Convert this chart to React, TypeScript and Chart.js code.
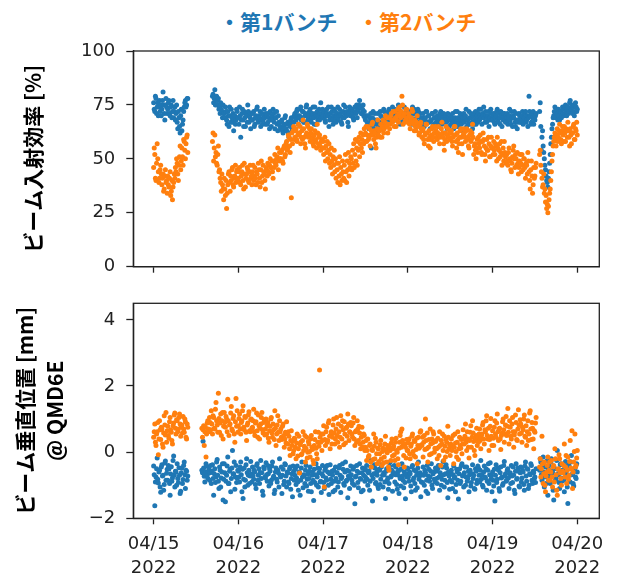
import React, { useEffect, useRef } from 'react';
import { Chart, registerables } from 'chart.js';

Chart.register(...registerables);

const _ = null;

// sampling interval of the logged data (minutes), starting 2022-04-15 00:00
const SAMPLE_MINUTES = 10;

const X_TICK_DAYS = [0, 1, 2, 3, 4, 5];
const X_TICK_DATES = ['04/15', '04/16', '04/17', '04/18', '04/19', '04/20'];
const X_TICK_YEAR = '2022';
const EFF_TICKS = [0, 25, 50, 75, 100];
const POS_TICKS = [-2, 0, 2, 4];
const SERIES_LABELS = ['第1バンチ', '第2バンチ'];
const EFF_TITLE = 'ビーム入射効率 [%]';
const POS_TITLE = ['ビーム垂直位置 [mm]', '@ QMD6E'];
const COLORS = ['#1f77b4', '#ff7f0e'];

// ビーム入射効率 [%] — 第1バンチ (one row = 2 hours)
const EFF_B1 = [
  76, 73, 72, 79, 78, 71, 74, 76, 70, 74, 77, 72,
  75, 70, 73, 77, 81, 75, 71, 68, 75, 78, 74, 71,
  73, 76, 77, 71, 70, 74, 75, 69, 72, 77, 69, 72,
  74, 68, 71, 75, 67, 64, 72, 69, 65, 62, 70, 73,
  63, 66, 68, 72, 74, 76, 77, 74, 75, 78, 78, _,
  _, _, _, _, _, _, _, _, _, _, _, _,
  _, _, _, _, _, _, _, _, _, _, _, _,
  _, _, _, _, _, _, _, _, _, _, _, _,
  _, _, _, _, 79, 80, 76, 78, 82, 75, 77, 79,
  75, 77, 78, 73, 74, 71, 76, 73, 72, 69, 75, 71,
  71, 69, 74, 72, 68, 66, 72, 70, 65, 74, 70, 67,
  73, 69, 67, 71, 63, 68, 70, 66, 68, 73, 72, 69,
  69, 66, 74, 70, 60, 68, 71, 73, 68, 65, 72, 69,
  65, 71, 70, 67, 75, 72, 67, 70, 69, 64, 71, 68,
  68, 71, 72, 65, 66, 69, 70, 73, 74, 68, 67, 70,
  69, 72, 65, 68, 71, 66, 68, 70, 73, 69, 66, 71,
  70, 66, 67, 71, 69, 64, 72, 68, 65, 70, 68, 73,
  71, 67, 64, 69, 69, 72, 66, 63, 70, 67, 67, 65,
  64, 67, 68, 63, 62, 65, 66, 69, 70, 64, 63, 66,
  67, 62, 60, 66, 65, 68, 69, 63, 64, 67, 67, 70,
  71, 69, 68, 72, 73, 70, 66, 69, 70, 73, 74, 68,
  69, 72, 72, 67, 67, 70, 71, 74, 75, 70, 68, 71,
  70, 72, 73, 68, 67, 70, 71, 74, 69, 66, 74, 71,
  66, 70, 72, 68, 70, 73, 68, 71, 76, 69, 71, 73,
  69, 71, 72, 68, 67, 70, 73, 71, 70, 74, 65, 68,
  71, 69, 74, 72, 68, 66, 70, 73, 72, 69, 67, 70,
  71, 74, 68, 70, 73, 71, 70, 67, 66, 69, 72, 75,
  69, 71, 74, 70, 70, 72, 67, 65, 71, 74, 73, 70,
  70, 73, 72, 69, 68, 71, 74, 72, 71, 75, 69, 72,
  73, 75, 77, 74, 74, 71, 71, 73, 75, 70, 72, 69,
  68, 70, 65, 67, 70, 66, 64, 69, 67, 71, 55, 65,
  69, 72, 66, 64, 71, 68, 63, 66, 68, 71, 65, 67,
  67, 72, 70, 66, 64, 69, 69, 73, 72, 67, 68, 71,
  71, 69, 66, 72, 73, 68, 70, 67, 68, 71, 74, 70,
  70, 68, 73, 71, 68, 72, 71, 69, 75, 72, 69, 66,
  72, 70, 67, 71, 70, 68, 74, 71, 69, 73, 71, 68,
  70, 72, 67, 69, 72, 70, 69, 66, 74, 71, 68, 73,
  71, 68, 65, 69, 70, 73, 72, 67, 67, 71, 69, 66,
  68, 66, 71, 69, 65, 68, 69, 72, 72, 67, 67, 70,
  70, 67, 64, 68, 68, 71, 71, 65, 66, 69, 69, 72,
  67, 69, 70, 66, 65, 68, 69, 71, 72, 67, 66, 70,
  68, 71, 62, 67, 70, 68, 67, 64, 71, 69, 65, 68,
  68, 70, 66, 69, 71, 67, 64, 68, 69, 72, 67, 65,
  72, 69, 65, 67, 68, 71, 70, 66, 63, 68, 69, 71,
  67, 69, 70, 73, 65, 68, 68, 66, 72, 69, 66, 71,
  69, 67, 64, 70, 71, 66, 68, 72, 66, 69, 70, 67,
  71, 73, 68, 70, 73, 69, 66, 71, 70, 74, 69, 67,
  72, 70, 67, 69, 70, 72, 65, 68, 69, 73, 71, 68,
  68, 70, 71, 67, 66, 69, 70, 72, 73, 68, 67, 71,
  69, 66, 72, 70, 65, 69, 68, 71, 71, 68, 67, 70,
  69, 71, 66, 68, 70, 73, 68, 66, 72, 69, 65, 70,
  69, 72, 67, 65, 71, 68, 64, 67, 68, 71, 70, 67,
  67, 69, 70, 72, 66, 68, 69, 71, 72, 67, 68, 70,
  65, 69, 79, 72, 70, 66, 67, 71, 69, 72, 66, 69,
  68, 70, 71, _, _, _, _, _, 72, 76, 65, 54,
  60, 63, 56, 53, 50, 47, 45, 42, 40, 39, 37, 41,
  44, 48, 52, 57, 60, 64, 66, 69, 70, 72, 74, 71,
  69, 73, 71, 68, 73, 70, 68, 72, 72, 69, 70, 74,
  73, 70, 71, 74, 75, 72, 70, 73, 74, 71, 72, 76,
  77, 72, 73, 75, 71, 74, 75, 70, 72, 76, 74, 72,
  73,
];

// ビーム入射効率 [%] — 第2バンチ
const EFF_B2 = [
  46, 55, 52, 41, 40, 48, 57, 50, 44, 39, 41, 45,
  47, 43, 38, 41, 43, 35, 36, 42, 45, 39, 40, 34,
  42, 38, 37, 41, 44, 33, 35, 40, 31, 37, 39, 43,
  41, 46, 44, 50, 48, 43, 40, 47, 51, 56, 45, 49,
  55, 51, 47, 59, 58, 54, 50, 57, 60, 61, 53, _,
  _, _, _, _, _, _, _, _, _, _, _, _,
  _, _, _, _, _, _, _, _, _, _, _, _,
  _, _, _, _, _, _, _, _, _, _, _, _,
  _, _, _, _, 58, 62, 49, 55, 61, 51, 53, 48,
  47, 52, 56, 44, 45, 41, 39, 35, 43, 38, 36, 31,
  41, 36, 33, 40, 27, 34, 38, 43, 44, 39, 35, 42,
  40, 45, 46, 38, 37, 41, 42, 47, 39, 44, 45, 40,
  41, 44, 46, 39, 38, 42, 44, 47, 40, 36, 48, 43,
  37, 41, 43, 46, 45, 40, 39, 44, 47, 41, 42, 38,
  44, 47, 40, 42, 46, 41, 38, 44, 43, 39, 48, 45,
  41, 37, 45, 49, 39, 42, 47, 44, 43, 40, 36, 46,
  45, 42, 48, 44, 43, 47, 50, 46, 46, 49, 44, 41,
  49, 46, 52, 48, 47, 50, 51, 55, 45, 49, 53, 50,
  50, 53, 54, 49, 48, 55, 56, 51, 52, 57, 58, 54,
  55, 61, 60, 56, 53, 59, 32, 62, 57, 63, 65, 59,
  60, 63, 64, 59, 58, 61, 66, 62, 62, 65, 57, 60,
  63, 59, 68, 64, 60, 57, 55, 61, 62, 66, 65, 60,
  61, 64, 58, 62, 64, 59, 60, 57, 56, 61, 63, 58,
  59, 55, 66, 62, 57, 60, 61, 56, 54, 58, 59, 55,
  58, 52, 55, 60, 49, 56, 53, 58, 50, 54, 57, 48,
  52, 46, 55, 49, 43, 51, 47, 54, 44, 50, 41, 48,
  45, 39, 48, 42, 51, 38, 46, 43, 40, 49, 44, 41,
  47, 40, 52, 44, 39, 49, 45, 53, 42, 48, 46, 51,
  50, 45, 54, 48, 57, 46, 52, 59, 49, 55, 47, 58,
  54, 60, 51, 57, 62, 55, 59, 53, 61, 57, 64, 58,
  62, 65, 58, 61, 65, 59, 60, 64, 56, 61, 63, 66,
  67, 61, 59, 63, 62, 57, 55, 60, 64, 68, 61, 63,
  63, 60, 66, 64, 60, 65, 68, 62, 64, 67, 70, 66,
  65, 69, 62, 66, 69, 64, 66, 70, 71, 68, 67, 72,
  68, 65, 72, 69, 65, 68, 70, 73, 67, 71, 74, 70,
  69, 72, 79, 75, 66, 70, 71, 67, 68, 73, 73, 69,
  67, 71, 70, 66, 64, 68, 69, 73, 72, 67, 66, 63,
  68, 65, 63, 67, 70, 66, 65, 61, 62, 66, 67, 64,
  60, 63, 64, 59, 57, 61, 62, 66, 66, 62, 59, 56,
  63, 60, 55, 59, 61, 64, 65, 60, 58, 62, 62, 65,
  63, 60, 59, 62, 65, 61, 57, 60, 61, 64, 67, 62,
  60, 57, 54, 59, 62, 65, 58, 61, 64, 60, 60, 63,
  59, 62, 63, 58, 56, 60, 61, 65, 65, 61, 58, 55,
  62, 59, 53, 57, 60, 63, 64, 60, 57, 52, 61, 64,
  62, 60, 58, 63, 64, 59, 60, 56, 55, 61, 63, 58,
  59, 62, 66, 60, 52, 56, 57, 54, 50, 55, 59, 53,
  60, 57, 55, 61, 58, 53, 52, 58, 62, 59, 56, 52,
  49, 55, 59, 54, 54, 60, 57, 51, 51, 56, 60, 55,
  55, 52, 58, 54, 52, 57, 56, 49, 60, 55, 50, 54,
  57, 51, 53, 58, 47, 52, 55, 49, 58, 53, 51, 48,
  52, 49, 47, 53, 55, 50, 49, 45, 44, 48, 51, 54,
  56, 50, 46, 52, 50, 47, 53, 48, 43, 46, 49, 52,
  48, 44, 52, 47, 45, 50, 50, 46, 41, 48, 47, 43,
  53, 49, 44, 40, 36, 45, 49, 42, 34, 38, 46, 41,
  42, 46, 48, _, _, _, _, _, 52, 54, 47, 44,
  41, 37, 38, 43, 34, 36, 30, 33, 27, 29, 25, 28,
  31, 34, 36, 40, 44, 49, 52, 56, 58, 60, 62, 59,
  56, 61, 64, 58, 60, 63, 66, 62, 59, 57, 63, 65,
  61, 58, 65, 62, 58, 64, 63, 60, 67, 63, 60, 56,
  64, 61, 57, 62, 62, 65, 66, 59, 59, 64, 63, 67,
  61,
];

// ビーム垂直位置 [mm] @ QMD6E — 第1バンチ
const POS_B1 = [
  -0.42, -0.68, -1.62, -0.90, -0.75, -0.50, -0.18, -0.82, -0.93, -0.60, -0.55, -1.05,
  -1.21, -0.45, -0.38, -0.72, -0.70, -1.15, -0.98, -0.33, -0.27, -0.85, -0.64, -0.52,
  -0.85, -0.40, -0.51, -0.95, -1.30, -0.66, -0.44, -0.88, -0.78, -0.25, -0.12, -0.70,
  -1.05, -0.58, -0.60, -1.00, -0.35, -0.80, -0.92, -0.47, -0.70, -1.25, -1.18, -0.62,
  -0.48, -0.95, -0.83, -0.40, -0.30, -0.68, -1.10, -0.55, -0.58, -0.85, -0.72, _,
  _, _, _, _, _, _, _, _, _, _, _, _,
  _, _, _, _, _, _, _, _, _, _, -0.55, -0.62,
  0.33, -0.48, -0.73, -0.90, -0.60, -0.35, -0.42, -0.70, -0.80, -0.58, -0.50, -0.85,
  -0.62, -0.40, -0.95, -0.58, -0.38, -0.80, -1.30, -0.65, -0.50, -0.92, -0.75, -0.30,
  -0.22, -0.70, -0.88, -1.10, -0.45, -0.55, -1.05, -0.78, -0.60, -0.35, -1.45, -0.82,
  -0.35, -0.62, -1.50, -0.88, -0.70, -0.42, -0.15, -0.95, -0.95, -0.58, -0.52, -1.20,
  -0.80, -0.48, 0.05, -0.66, -0.65, -0.30, -1.12, -0.75, -0.40, -0.92, -0.78, -0.55,
  -0.58, -0.75, -0.90, -0.45, -0.30, -0.68, -1.20, -0.52, -1.40, -0.82, -0.48, -1.05,
  -0.85, -0.38, -0.20, -0.62, -1.00, -0.70, -0.55, -0.95, -0.72, -0.28, -0.66, -0.90,
  -0.45, -0.72, -0.82, -0.55, -0.60, -0.98, -1.10, -0.40, -0.35, -0.85, -0.70, -0.50,
  -0.95, -0.62, -0.25, -0.80, -0.62, -1.18, -1.30, -0.45, -0.50, -0.75, -0.78, -0.32,
  -0.68, -0.88, -0.40, -0.65, -1.02, -0.50, -0.57, -0.95, -0.85, -0.42, -0.30, -0.78,
  -0.73, -1.25, -1.15, -0.60, -0.48, -0.82, -0.90, -0.55, -0.62, -1.05, -0.20, -0.70,
  -0.75, -0.45, -1.25, -0.70, -0.52, -0.98, -0.88, -0.35, -0.38, -0.72, -1.05, -0.60,
  -0.63, -0.90, -0.95, -0.50, -0.45, -1.12, -0.80, -0.65, -1.35, -0.42, -0.58, -0.85,
  -0.70, -0.50, -0.98, -0.78, -0.42, -0.90, -1.15, -0.60, -0.62, -1.30, -0.85, -0.48,
  -0.30, -0.75, -1.08, -0.68, -0.72, -0.95, -0.55, -0.40, -1.02, -0.82, -0.66, -1.18,
  -0.80, -0.58, -0.45, -0.95, -1.20, -0.70, -0.60, -0.85, -1.46, -0.52, -0.92, -0.68,
  -0.35, -1.00, -0.75, -0.48, -1.05, -0.62, -0.50, -0.90, -0.88, -1.22, -0.65, -0.40,
  -0.72, -0.92, -1.10, -0.55, -0.48, -0.78, -0.85, -0.40, -0.60, -1.00, -1.28, -0.65,
  -0.38, -0.82, -0.95, -0.58, -0.70, -1.20, -0.55, -0.88, -1.15, -0.45, -0.80, -0.62,
  -0.62, -1.05, -0.90, -0.48, -0.40, -0.70, -1.22, -0.80, -0.75, -0.35, -0.52, -0.95,
  -1.00, -0.60, -0.30, -0.88, -0.85, -0.55, -1.38, -0.72, -0.58, -1.10, -0.78, -0.42,
  -0.68, -0.85, -0.95, -0.52, -0.45, -1.00, -1.56, -0.75, -0.72, -0.40, -0.58, -0.92,
  -1.08, -0.62, -0.35, -0.80, -0.82, -1.20, -0.62, -0.48, -1.15, -0.70, -0.50, -0.88,
  -0.75, -0.55, -0.40, -0.82, -1.00, -0.62, -0.58, -1.15, -0.88, -0.45, -0.25, -0.70,
  -1.48, -0.80, -0.65, -0.38, -0.48, -0.95, -0.92, -0.60, -0.70, -1.02, -1.10, -0.52,
  -0.55, -0.98, -0.82, -0.45, -0.38, -0.70, -1.05, -0.62, -0.68, -0.90, -1.40, -0.58,
  -0.50, -0.85, -0.78, -1.12, -0.95, -0.42, -0.30, -0.75, -0.72, -0.55, -1.18, -0.65,
  -0.62, -0.40, -0.90, -0.68, -0.45, -0.98, -1.12, -0.58, -0.70, -1.25, -0.55, -0.80,
  -1.02, -0.50, -0.35, -0.72, -0.85, -1.08, -0.60, -0.92, -1.41, -0.65, -0.75, -0.48,
  -0.50, -0.75, -0.88, -0.60, -0.65, -1.02, -1.20, -0.45, -0.40, -0.85, -0.78, -0.55,
  -0.95, -1.15, -0.58, -0.70, -1.08, -0.48, -0.30, -0.82, -0.72, -0.62, -1.35, -0.90,
  -0.68, -0.92, -0.45, -0.70, -1.00, -0.55, -0.62, -1.18, -0.85, -0.40, -1.25, -0.72,
  -0.52, -0.88, -0.75, -0.58, -0.35, -1.00, -1.10, -0.65, -0.60, -0.82, -0.90, -0.48,
  -0.58, -0.80, -0.95, -0.50, -0.40, -0.75, -1.15, -0.62, -0.70, -1.00, -0.82, -0.45,
  -0.28, -0.68, -1.05, -0.85, -0.65, -0.38, -0.48, -0.92, -1.38, -0.60, -0.72, -1.12,
  -0.85, -0.62, -0.55, -0.90, -1.10, -0.68, -0.42, -0.78, -0.75, -1.20, -0.98, -0.52,
  -0.60, -0.85, -1.42, -0.65, -0.50, -0.95, -0.88, -0.40, -0.35, -0.72, -0.70, -1.05,
  -0.62, -0.45, -1.00, -0.75, -0.45, -0.88, -0.80, -0.58, -1.20, -0.68, -0.55, -1.02,
  -0.92, -0.65, -0.38, -0.80, -0.70, -1.10, -1.12, -0.50, -0.58, -0.95, -0.85, -0.42,
  -0.48, -0.70, -0.90, -0.55, -0.25, -0.82, -0.68, -1.00, -1.05, -0.60, -0.42, -0.75,
  -0.78, -0.50, -1.15, -0.88, -0.55, -0.35, -0.95, -0.68, -0.32, -0.82, -0.72, -1.20,
  -0.60, -0.85, -1.02, -0.52, -1.48, -0.70, -0.38, -0.92, -0.82, -0.48, -0.55, -1.10,
  -1.18, -0.62, -0.45, -0.78, -0.75, -1.00, -0.95, -0.40, -0.28, -0.72, -0.65, -0.88,
  -0.85, -0.55, -0.50, -0.78, -1.10, -0.65, -0.62, -0.95, -0.40, -0.72, -0.92, -0.45,
  -0.70, -1.15, -1.25, -0.58, -0.35, -0.82, -0.80, -0.48, -0.58, -1.02, -1.05, -0.62,
  -0.45, -0.90, -0.78, -0.55, -0.60, -0.98, -1.15, -0.42, -0.30, -0.72, -0.88, -0.50,
  -0.52, -1.10, -1.00, -0.65, -0.68, -0.35, -0.40, -0.85, -0.95, -0.58, -0.62, -0.80,
  -0.75, -0.92, -0.50, _, _, _, _, _, -0.55, -0.20, -0.30, -0.68,
  -0.85, -0.40, -0.15, -0.60, -1.05, -0.75, -0.45, -0.95, -0.70, -0.25, -1.30, -0.52,
  -0.40, -0.72, -0.95, -0.30, -0.20, -0.58, -0.62, -1.15, -1.45, -0.48, -0.50, -0.85,
  -0.80, -0.25, 0.05, -0.65, -0.68, -0.92, -1.10, -0.38, -0.35, -0.78, -0.88, -0.55,
  -0.55, -0.85, -1.20, -0.45, -0.28, -0.62, -0.75, -1.05, -1.55, -0.38, -0.42, -0.70,
  -0.90, -0.30, -0.10, -0.68, -0.65, -0.95, -1.02, -0.52, -0.48, -0.75, -0.80, -0.35,
  -0.60,
];

// ビーム垂直位置 [mm] @ QMD6E — 第2バンチ
const POS_B2 = [
  0.45, 0.62, 0.85, 0.30, 0.20, 0.55, 0.62, 0.90, -0.08, 0.40, 0.95, 0.68,
  0.38, 0.75, 0.70, 0.25, 0.15, 0.58, 1.10, 0.82, 0.52, 1.20, 0.30, 0.65,
  0.78, 0.50, 0.42, 0.92, 1.05, 0.68, 0.60, 0.35, 0.25, 0.80, 0.88, 1.12,
  1.18, 0.72, 0.55, 0.98, 0.95, 0.62, 0.70, 1.05, 1.15, 0.85, 0.48, 0.75,
  0.82, 0.58, 1.08, 0.70, 0.60, 1.00, 0.92, 0.45, 0.40, 0.85, 0.75, _,
  _, _, _, _, _, _, _, _, _, _, _, _,
  _, _, _, _, _, _, _, _, _, _, 0.72, 0.45,
  0.68, 0.80, 0.20, 0.62, 0.75, -0.15, 0.55, 0.88, 0.95, 0.70, 0.62, 1.05,
  0.90, 0.68, 1.25, 0.85, 0.55, 1.10, 1.05, 0.72, 0.70, 1.30, 1.50, 0.95,
  0.82, 0.60, 1.78, 1.02, 0.60, 0.88, 1.15, 0.50, 0.95, 1.20, 0.40, 0.78,
  1.20, 0.90, 0.75, 1.08, 1.00, 0.62, 1.60, 0.95, 0.50, 0.82, 0.85, 1.18,
  1.38, 0.70, 0.65, 1.02, 1.10, 0.55, 0.30, 0.92, 1.62, 0.78, 1.25, 0.60,
  0.80, 1.02, 1.15, 0.70, 0.55, 0.90, 0.95, 1.25, 1.40, 0.75, 0.68, 1.08,
  1.05, 0.60, 0.35, 0.82, 0.88, 1.12, 1.22, 0.65, 0.62, 0.98, 1.00, 0.72,
  0.75, 0.95, 1.30, 0.62, 0.50, 0.88, 0.92, 1.18, 0.65, 0.45, 1.12, 0.80,
  0.40, 0.72, 0.85, 1.05, 1.20, 0.68, 0.58, 0.90, 0.98, 0.52, 0.70, 1.00,
  0.55, 0.80, 0.90, 0.42, 0.30, 0.65, 0.78, 1.00, 1.05, 0.58, 0.45, 0.85,
  0.68, 0.38, 1.25, 0.72, 0.20, 0.55, 0.82, 1.10, 0.60, 0.35, 0.95, 0.62,
  0.70, 0.45, 0.38, 0.78, 0.85, 0.50, 0.15, 0.40, 0.60, 0.28, 0.92, 0.55,
  0.25, 0.62, 0.48, 0.10, -0.10, 0.35, 0.65, 0.20, 0.32, -0.05, 0.05, 0.42,
  0.40, 0.15, -0.20, 0.28, 0.55, -0.12, 0.10, 0.48, -0.63, 0.22, 0.30, -0.08,
  -0.05, 0.35, 0.62, 0.05, 0.18, 0.50, -0.30, 0.12, 0.45, -0.18, 0.00, 0.32,
  0.25, 0.02, -0.15, 0.40, 0.50, 0.15, 0.08, -0.25, -0.35, 0.20, 0.38, 0.62,
  0.12, -0.05, -0.20, 0.30, 0.60, 0.18, 2.48, 0.45, 0.30, 0.55, 0.05, 0.35,
  0.55, 0.80, -1.05, 0.38, 0.20, 0.62, 0.75, 0.30, 0.35, 0.88, 0.95, 0.48,
  0.10, 0.52, 0.62, 0.25, 0.45, 0.82, 1.00, 0.58, 0.25, 0.40, 0.70, 1.05,
  0.50, 0.30, 0.85, 0.62, 0.15, 0.45, 1.10, 0.78, 0.40, 0.95, 0.68, 0.22,
  0.92, 0.55, 0.28, 0.72, 0.75, 0.48, 1.15, 0.85, 0.35, 0.62, 0.60, 0.90,
  0.80, 0.55, 0.45, 0.88, 1.05, 0.40, 0.20, 0.62, 0.65, 0.30, 0.95, 0.70,
  0.35, 0.78, 0.58, 0.25, 0.10, 0.45, 0.75, 0.15, 0.30, 0.55, 0.50, 0.05,
  0.15, 0.35, -0.25, 0.05, 0.40, -0.15, -0.10, 0.20, 0.25, -0.30, -0.45, 0.08,
  0.05, -0.22, 0.55, 0.18, -0.20, 0.42, 0.30, -0.05, -0.35, 0.12, 0.10, -0.28,
  -0.05, 0.22, 0.35, -0.20, -0.40, 0.02, 0.12, -0.32, -0.15, 0.25, 0.48, 0.08,
  -0.30, -0.02, 0.20, -0.45, -0.55, 0.15, 0.05, -0.25, 0.28, 0.40, -0.12, 0.10,
  0.18, -0.08, -0.25, 0.30, 0.42, 0.05, 0.00, -0.20, -0.38, 0.12, 0.30, 0.50,
  0.62, 0.15, 0.70, 0.35, 0.22, -0.10, -0.45, 0.25, 0.15, -0.18, 0.38, 0.05,
  0.05, 0.28, 0.40, -0.05, -0.20, 0.18, 0.25, 0.48, 0.55, 0.02, -0.10, 0.35,
  0.32, -0.15, 0.08, 0.42, -0.35, 0.20, 0.45, 0.12, 0.15, 0.60, 0.65, 0.22,
  0.20, 0.45, -0.15, 0.30, 0.50, 0.08, 1.00, 0.35, 0.10, 0.58, -0.30, 0.15,
  0.38, -0.08, 0.70, 0.25, -0.05, 0.40, 0.28, 0.62, 0.55, 0.00, 0.12, 0.32,
  0.35, 0.10, -0.20, 0.42, 0.15, -0.10, 0.62, 0.20, -0.40, 0.35, 0.25, 0.55,
  0.05, -0.25, 0.48, 0.18, -0.15, 0.38, 0.30, 0.02, 0.78, 0.45, 0.10, 0.22,
  -0.10, 0.25, 0.40, 0.05, 0.18, 0.50, -0.35, 0.15, 0.55, 0.28, 0.02, -0.15,
  0.30, 0.62, -0.22, 0.10, 0.45, 0.20, 0.12, 0.38, -0.05, 0.25, 0.68, 0.40,
  0.25, 0.48, 0.85, 0.30, 0.05, 0.62, 0.40, 0.15, -0.18, 0.35, 0.60, 0.80,
  0.15, 0.45, 0.95, 0.58, 0.32, 0.05, -0.10, 0.40, 0.50, 0.72, 0.20, 0.42,
  0.30, 0.55, 0.70, 0.35, 0.10, 0.45, 0.55, 0.82, 0.90, 0.40, 0.25, 0.68,
  0.62, 0.95, 1.10, 0.50, 0.40, 0.72, 0.05, 0.38, 0.78, 1.02, 0.48, 0.20,
  0.65, 0.42, 0.20, 0.75, 0.95, 0.55, 0.45, 0.88, 1.15, 0.62, 0.35, 0.70,
  0.72, 0.40, 0.08, 0.50, 0.58, 0.92, 1.00, 0.68, 0.30, 0.55, 0.82, 1.08,
  0.50, 0.78, 1.32, 0.60, 0.25, 0.95, 0.75, 0.48, 0.40, 0.85, 1.05, 0.62,
  0.15, 0.52, 0.62, 1.12, 0.90, 0.38, 0.35, 0.70, 1.28, 0.82, 0.55, 0.98,
  0.85, 0.58, 0.30, 0.75, 0.68, 1.00, 1.12, 0.48, 0.45, 0.80, 0.20, 0.62,
  0.95, 0.35, 0.55, 1.18, 1.25, 0.70, 0.38, 0.90, 0.72, 0.40, 0.10, 0.65,
  0.60, 0.88, 1.05, _, _, _, _, _, -0.45, -0.20, -0.75, -0.50,
  0.48, -0.35, -0.95, -0.65, -0.30, -1.00, -1.20, -0.72, -0.60, -0.40, -0.15, -0.85,
  -0.55, -0.30, -0.85, -0.60, -0.25, -0.75, -1.05, -0.45, -0.40, -0.90, 0.10, -0.20,
  -0.68, -1.15, -1.30, -0.52, -0.50, -0.08, -0.20, -0.62, -0.80, -1.00, -0.35, -0.58,
  -0.62, -0.40, 0.25, -0.75, -0.45, -0.10, -0.95, -0.55, -0.15, -0.82, -0.70, -0.28,
  0.35, -0.48, -0.52, 0.65, -1.10, -0.60, -0.30, 0.02, 0.55, -0.45, -0.40, -0.18,
  0.05,
];

const INK = '#222222';
const TICK_FONT = { family: '"DejaVu Sans", sans-serif', size: 18, lineHeight: 1.28 };
const TITLE_FONT_FAMILY = '"Noto Sans CJK JP", "Noto Sans", sans-serif';

function toPoints(values: (number | null)[]) {
  const pts: { x: number; y: number }[] = [];
  values.forEach((v, i) => {
    if (v !== null) pts.push({ x: (i * SAMPLE_MINUTES) / 1440, y: v });
  });
  return pts;
}

function fmtNum(v: number) {
  return v < 0 ? '\u2212' + Math.abs(v) : String(v);
}

const framePlugin = {
  id: 'frame',
  afterDraw(chart: any) {
    const { ctx, chartArea: a } = chart;
    ctx.save();
    ctx.strokeStyle = INK;
    ctx.lineWidth = 1.3;
    ctx.strokeRect(a.left, a.top, a.right - a.left, a.bottom - a.top);
    ctx.restore();
  },
};

function xScale(showLabels: boolean) {
  return {
    type: 'linear',
    min: -0.24,
    max: 5.26,
    afterBuildTicks: (s: any) => {
      s.ticks = X_TICK_DAYS.map((v) => ({ value: v }));
    },
    afterFit: (s: any) => {
      s.height = showLabels ? 60 : 8;
      s.paddingLeft = 0;
      s.paddingRight = 0;
      s.paddingTop = 0;
      s.paddingBottom = 0;
    },
    grid: { drawOnChartArea: false, drawTicks: true, tickLength: 6, tickColor: INK, tickWidth: 1.3 },
    border: { display: true, color: INK, width: 1.3 },
    ticks: {
      padding: 9,
      color: INK,
      font: TICK_FONT,
      maxRotation: 0,
      autoSkip: false,
      callback: (v: number) => {
        const k = X_TICK_DAYS.indexOf(v);
        return showLabels && k >= 0 ? [X_TICK_DATES[k], X_TICK_YEAR] : '';
      },
    },
  };
}

function yScale(min: number, max: number, tickVals: number[], title: string | string[], titleLineHeight: number, titlePadTop: number) {
  return {
    type: 'linear',
    min,
    max,
    afterBuildTicks: (s: any) => {
      s.ticks = tickVals.map((v) => ({ value: v }));
    },
    afterFit: (s: any) => {
      s.width = 133.3;
      s.paddingLeft = 0;
      s.paddingRight = 0;
      s.paddingTop = 0;
      s.paddingBottom = 0;
    },
    grid: { drawOnChartArea: false, drawTicks: true, tickLength: 7, tickColor: INK, tickWidth: 1.3 },
    border: { display: true, color: INK, width: 1.3 },
    ticks: {
      padding: 11,
      color: INK,
      font: TICK_FONT,
      autoSkip: false,
      callback: (v: number) => fmtNum(v),
    },
    title: {
      display: true,
      text: title,
      color: '#000000',
      font: { family: TITLE_FONT_FAMILY, size: 21, weight: 'bold', lineHeight: titleLineHeight },
      padding: { top: titlePadTop, bottom: 0 },
    },
  };
}

function datasets(b1: (number | null)[], b2: (number | null)[]) {
  return [
    {
      label: SERIES_LABELS[1],
      data: toPoints(b2),
      backgroundColor: COLORS[1],
      borderColor: COLORS[1],
      pointRadius: 2.5,
      borderWidth: 0,
      order: 0,
    },
    {
      label: SERIES_LABELS[0],
      data: toPoints(b1),
      backgroundColor: COLORS[0],
      borderColor: COLORS[0],
      pointRadius: 2.5,
      borderWidth: 0,
      order: 1,
    },
  ];
}

export default function App() {
  const topRef = useRef<HTMLCanvasElement | null>(null);
  const botRef = useRef<HTMLCanvasElement | null>(null);

  useEffect(() => {
    const common = {
      animation: false,
      responsive: false,
      devicePixelRatio: 1,
      events: [],
      plugins: { legend: { display: false }, tooltip: { enabled: false } },
    };
    const top = new Chart(topRef.current as HTMLCanvasElement, {
      type: 'scatter',
      data: { datasets: datasets(EFF_B1, EFF_B2) as any },
      options: {
        ...common,
        layout: { padding: { left: 0, right: 22.7, top: 51, bottom: 15.3 } },
        scales: {
          x: xScale(false) as any,
          y: yScale(0, 100, EFF_TICKS, EFF_TITLE, 1.2, 20.4) as any,
        },
      } as any,
      plugins: [framePlugin],
    });
    const bot = new Chart(botRef.current as HTMLCanvasElement, {
      type: 'scatter',
      data: { datasets: datasets(POS_B1, POS_B2) as any },
      options: {
        ...common,
        layout: { padding: { left: 0, right: 22.7, top: 13.3, bottom: 2.7 } },
        scales: {
          x: xScale(true) as any,
          y: yScale(-2, 4.5, POS_TICKS, POS_TITLE, 30 / 21, 10) as any,
        },
      } as any,
      plugins: [framePlugin],
    });
    return () => {
      top.destroy();
      bot.destroy();
    };
  }, []);

  const legendStyle = (left: number, color: string): React.CSSProperties => ({
    position: 'absolute',
    left,
    top: 9,
    lineHeight: '24px',
    fontFamily: TITLE_FONT_FAMILY,
    fontWeight: 'bold',
    fontSize: 21,
    color,
    whiteSpace: 'nowrap',
  });

  return (
    <div style={{ position: 'absolute', left: 0, top: 0, width: 622, height: 581, background: '#ffffff', overflow: 'hidden' }}>
      <span style={legendStyle(219, COLORS[0])}>・{SERIES_LABELS[0]}</span>
      <span style={legendStyle(358, COLORS[1])}>・{SERIES_LABELS[1]}</span>
      <canvas ref={topRef} width={622} height={290} style={{ position: 'absolute', left: 0, top: 0, width: 622, height: 290 }} />
      <canvas ref={botRef} width={622} height={291} style={{ position: 'absolute', left: 0, top: 290, width: 622, height: 291 }} />
    </div>
  );
}
